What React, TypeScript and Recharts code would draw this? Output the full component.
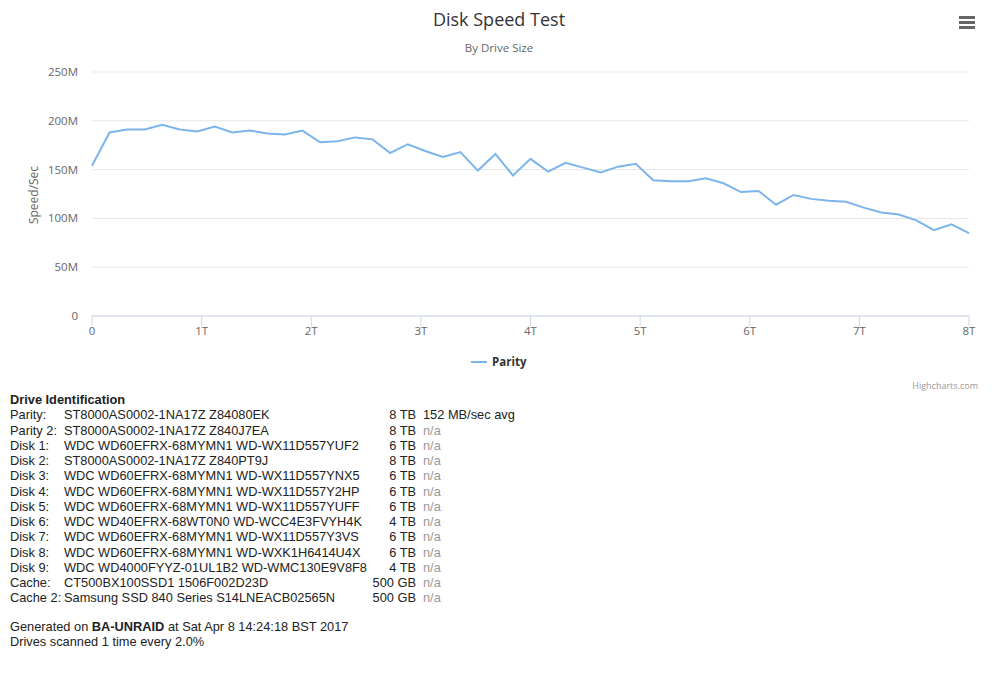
import React from 'react';
import { LineChart, Line, XAxis, YAxis, CartesianGrid } from 'recharts';

// position along the drive, in TB (one sample every 2% of 8 TB)
const positionTB = [
  0, 0.16, 0.32, 0.48, 0.64, 0.8, 0.96, 1.12, 1.28, 1.44,
  1.6, 1.76, 1.92, 2.08, 2.24, 2.4, 2.56, 2.72, 2.88, 3.04,
  3.2, 3.36, 3.52, 3.68, 3.84, 4, 4.16, 4.32, 4.48, 4.64,
  4.8, 4.96, 5.12, 5.28, 5.44, 5.6, 5.76, 5.92, 6.08, 6.24,
  6.4, 6.56, 6.72, 6.88, 7.04, 7.2, 7.36, 7.52, 7.68, 7.84, 8,
];

// Parity speed in MB/sec
const paritySpeed = [
  154, 188, 191, 191, 196, 191, 189, 194, 188, 190,
  187, 186, 190, 178, 179, 183, 181, 167, 176, 169,
  163, 168, 149, 166, 144, 161, 148, 157, 152, 147,
  153, 156, 139, 138, 138, 141, 136, 127, 128, 114,
  124, 120, 118, 117, 111, 106, 104, 98, 88, 94, 85,
];

const xTicks = [0, 1, 2, 3, 4, 5, 6, 7, 8];
const yTicks = [0, 50, 100, 150, 200, 250];

const driveLabels = [
  'Parity:', 'Parity 2:', 'Disk 1:', 'Disk 2:', 'Disk 3:', 'Disk 4:', 'Disk 5:',
  'Disk 6:', 'Disk 7:', 'Disk 8:', 'Disk 9:', 'Cache:', 'Cache 2:',
];
const driveModels = [
  'ST8000AS0002-1NA17Z Z84080EK',
  'ST8000AS0002-1NA17Z Z840J7EA',
  'WDC WD60EFRX-68MYMN1 WD-WX11D557YUF2',
  'ST8000AS0002-1NA17Z Z840PT9J',
  'WDC WD60EFRX-68MYMN1 WD-WX11D557YNX5',
  'WDC WD60EFRX-68MYMN1 WD-WX11D557Y2HP',
  'WDC WD60EFRX-68MYMN1 WD-WX11D557YUFF',
  'WDC WD40EFRX-68WT0N0 WD-WCC4E3FVYH4K',
  'WDC WD60EFRX-68MYMN1 WD-WX11D557Y3VS',
  'WDC WD60EFRX-68MYMN1 WD-WXK1H6414U4X',
  'WDC WD4000FYYZ-01UL1B2 WD-WMC130E9V8F8',
  'CT500BX100SSD1 1506F002D23D',
  'Samsung SSD 840 Series S14LNEACB02565N',
];
const driveSizes = [
  '8 TB', '8 TB', '6 TB', '8 TB', '6 TB', '6 TB', '6 TB',
  '4 TB', '6 TB', '6 TB', '4 TB', '500 GB', '500 GB',
];
const driveResults = [
  '152 MB/sec avg', 'n/a', 'n/a', 'n/a', 'n/a', 'n/a', 'n/a',
  'n/a', 'n/a', 'n/a', 'n/a', 'n/a', 'n/a',
];

const data = positionTB.map((tb, i) => ({ tb, parity: paritySpeed[i] }));

const hcFont = '"Open Sans", "Noto Sans", sans-serif';

const App: React.FC = () => {
  return (
    <div style={{ position: 'absolute', left: 0, top: 0, width: 1000, height: 673, background: '#fff' }}>
      <div style={{ position: 'absolute', left: 0, top: 7, width: 998, textAlign: 'center', fontFamily: hcFont, fontSize: 18, color: '#333', lineHeight: '24px' }}>
        Disk Speed Test
      </div>
      <div style={{ position: 'absolute', left: 0, top: 40, width: 998, textAlign: 'center', fontFamily: hcFont, fontSize: 11.5, color: '#666', lineHeight: '16px' }}>
        By Drive Size
      </div>
      <svg style={{ position: 'absolute', left: 956, top: 12 }} width={22} height={20}>
        <path d="M 3 5.5 L 19 5.5 M 3 10.5 L 19 10.5 M 3 15.5 L 19 15.5" stroke="#666" strokeWidth={3} />
      </svg>
      <div style={{ position: 'absolute', left: 33, top: 195, width: 0, height: 0 }}>
        <div style={{ transform: 'translate(-50%, -50%) rotate(-90deg)', position: 'absolute', left: 0, top: 0, whiteSpace: 'nowrap', fontFamily: hcFont, fontSize: 12, color: '#666' }}>
          Speed/Sec
        </div>
      </div>

      <div style={{ position: 'absolute', left: 0, top: 0 }}>
        <LineChart width={1000} height={348} data={data} margin={{ top: 72, right: 31, left: 0, bottom: 0 }}>
          <CartesianGrid vertical={false} stroke="#e6e6e6" />
          <XAxis
            dataKey="tb"
            type="number"
            domain={[0, 8]}
            ticks={xTicks}
            tickFormatter={(v: number) => (v === 0 ? '0' : `${v}T`)}
            height={32}
            stroke="#ccd6eb"
            tickSize={10}
            tickMargin={1}
            tick={{ fill: '#666', fontSize: 11.5, fontFamily: hcFont }}
          />
          <YAxis
            type="number"
            domain={[0, 250]}
            ticks={yTicks}
            tickFormatter={(v: number) => (v === 0 ? '0' : `${v}M`)}
            width={92}
            axisLine={false}
            tickLine={false}
            tickSize={6}
            tickMargin={8}
            tick={{ fill: '#666', fontSize: 11.5, fontFamily: hcFont }}
          />
          <Line
            dataKey="parity"
            name="Parity"
            type="linear"
            stroke="#7cb5ec"
            strokeWidth={2}
            dot={false}
            isAnimationActive={false}
          />
        </LineChart>
      </div>

      <div style={{ position: 'absolute', left: 470, top: 354, display: 'flex', alignItems: 'center', fontFamily: hcFont, fontSize: 11.5, fontWeight: 'bold', color: '#333', lineHeight: '16px' }}>
        <svg width={18} height={16}>
          <line x1={1} x2={17} y1={8} y2={8} stroke="#7cb5ec" strokeWidth={2} />
        </svg>
        <span style={{ marginLeft: 4 }}>Parity</span>
      </div>
      <div style={{ position: 'absolute', right: 22, top: 379, fontFamily: hcFont, fontSize: 9, color: '#999' }}>
        Highcharts.com
      </div>

      <div style={{ position: 'absolute', left: 10, top: 392, fontFamily: '"Liberation Sans", Arial, sans-serif', fontSize: 12.8, color: '#222', lineHeight: '15.25px', whiteSpace: 'nowrap' }}>
        <div style={{ fontWeight: 'bold' }}>Drive Identification</div>
        {driveLabels.map((label, i) => (
          <div key={label} style={{ display: 'grid', gridTemplateColumns: '54px 300px 52px auto' }}>
            <span>{label}</span>
            <span>{driveModels[i]}</span>
            <span style={{ textAlign: 'right' }}>{driveSizes[i]}</span>
            <span style={{ paddingLeft: 7, color: driveResults[i] === 'n/a' ? '#999' : '#222' }}>{driveResults[i]}</span>
          </div>
        ))}
        <div style={{ marginTop: 13 }}>
          Generated on <b>BA-UNRAID</b> at Sat Apr 8 14:24:18 BST 2017
        </div>
        <div>Drives scanned 1 time every 2.0%</div>
      </div>
    </div>
  );
};

export default App;
